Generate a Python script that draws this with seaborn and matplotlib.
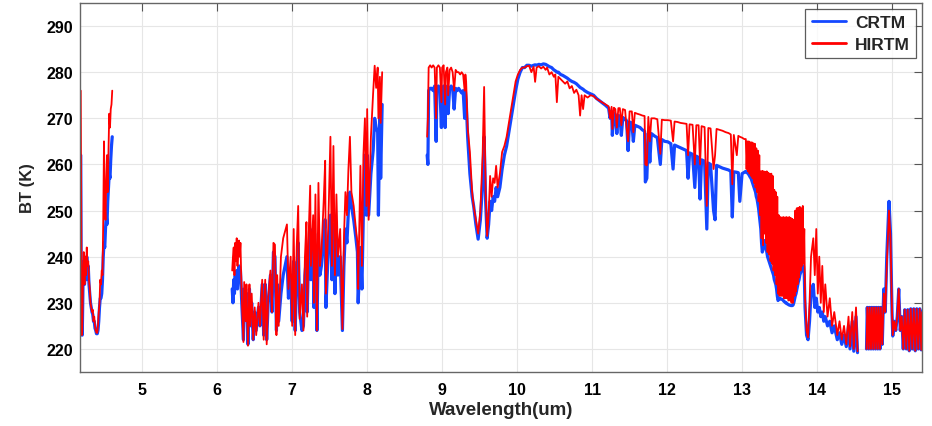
import matplotlib
matplotlib.use("Agg")
import matplotlib.pyplot as plt
import numpy as np
import pandas as pd
import seaborn as sns

# ---------------- data ----------------
# segment 1 : 4.17 - 4.60 um
wl1 = [4.18, 4.185, 4.19, 4.195, 4.20, 4.21, 4.22, 4.23, 4.24, 4.25,
       4.26, 4.27, 4.28, 4.29, 4.30, 4.31, 4.32, 4.33, 4.34, 4.35,
       4.36, 4.37, 4.38, 4.39, 4.40, 4.41, 4.42, 4.43, 4.44, 4.45,
       4.46, 4.47, 4.48, 4.49, 4.50, 4.51, 4.52, 4.53, 4.54, 4.55,
       4.56, 4.57, 4.58, 4.59, 4.60]
crtm1 = [262, 240, 226, 223, 223, 234, 239, 234, 238, 235,
         240, 237, 238, 234, 232, 230, 229, 228, 227.5, 226,
         226, 224.5, 224, 223.3, 223.3, 224, 226, 229, 231, 231,
         232, 235, 240, 243, 242, 246, 249, 247, 252, 255,
         258, 257, 261, 264, 266]
hirtm1 = [276, 255, 232, 223, 224, 236, 241, 234, 240, 236,
          242, 238, 239, 235, 233, 230, 229, 228, 228.5, 226,
          227, 225, 224, 223.5, 223.5, 225, 228, 230, 235, 234,
          237, 236, 248, 265, 252, 248, 256, 262, 254, 263,
          271, 268, 272, 273, 276]

# segment 2 : 6.20 - 8.20 um
wl2 = [6.20, 6.21, 6.22, 6.23, 6.24, 6.25, 6.26, 6.27, 6.28, 6.29,
       6.30, 6.31, 6.32, 6.33, 6.35, 6.36, 6.38, 6.39, 6.41, 6.43,
       6.44, 6.46, 6.48, 6.50, 6.52, 6.55, 6.57, 6.60, 6.62, 6.64,
       6.66, 6.68, 6.71, 6.73, 6.75, 6.77, 6.79, 6.80, 6.82, 6.85,
       6.88, 6.93, 6.95, 6.98, 7.00, 7.02, 7.04, 7.06, 7.08, 7.10,
       7.13, 7.15, 7.17, 7.19, 7.20, 7.22, 7.24, 7.25, 7.28, 7.29,
       7.31, 7.33, 7.35, 7.37, 7.39, 7.42, 7.44, 7.45, 7.48, 7.51,
       7.53, 7.55, 7.57, 7.59, 7.61, 7.64, 7.67, 7.69, 7.71, 7.73,
       7.75, 7.77, 7.79, 7.82, 7.85, 7.87, 7.88, 7.91, 7.93, 7.95,
       7.97, 7.99, 8.00, 8.02, 8.05, 8.08, 8.10, 8.12, 8.14, 8.15,
       8.17, 8.18, 8.20]
crtm2 = [233, 230, 235, 232, 236, 234, 237, 233, 236, 238,
         235, 237, 233, 229, 222, 233, 227, 232, 221, 233,
         225, 230, 222, 228, 224, 229, 225, 234, 223, 234,
         222, 230, 236, 228, 241, 240, 224, 234, 226, 232,
         236, 240, 231, 236, 226, 239, 224, 236, 243, 228,
         224, 225, 236, 240, 228, 241, 246, 235, 242, 229,
         240, 224, 245, 236, 238, 244, 248, 229, 241, 249,
         235, 247, 232, 245, 236, 240, 224, 238, 246, 243,
         250, 254, 251, 248, 244, 241, 230, 242, 233, 250,
         262, 249, 262, 249, 258, 263, 270, 268, 267, 249,
         272, 257, 273]
hirtm2 = [237, 240, 242, 236, 243, 239, 244, 238, 241, 243.5,
          240, 243, 236, 230, 221.5, 234.5, 226, 234, 220.7, 234,
          225, 232, 222, 229, 223, 230, 225, 235, 222, 235,
          221, 231, 237, 228, 243, 242.6, 223, 236, 225, 240,
          244, 247, 233, 240, 225, 246, 223, 242, 251, 226.5,
          234, 224, 240, 247.5, 227, 245, 255.4, 238, 249, 230,
          253.5, 224, 256, 238, 241, 252, 260.8, 232, 246, 266,
          238, 264, 236, 253.5, 240, 246, 224.3, 244, 254, 249,
          259, 266, 254, 251, 246, 243, 233, 259.7, 238, 262,
          270, 251, 272, 248, 266, 275.6, 281.4, 276.6, 281, 270,
          279, 269, 280]

# segment 3a : 8.80 - 13.05 um
wl3a = [8.80, 8.81, 8.82, 8.84, 8.86, 8.88, 8.90, 8.92, 8.93, 8.95,
        8.97, 8.99, 9.00, 9.02, 9.04, 9.05, 9.07, 9.08, 9.10, 9.12,
        9.14, 9.16, 9.18, 9.20, 9.22, 9.24, 9.26, 9.28, 9.30, 9.31,
        9.32, 9.34, 9.37, 9.40, 9.42, 9.45, 9.48, 9.51, 9.54, 9.56,
        9.58, 9.60, 9.62, 9.64, 9.66, 9.68, 9.70, 9.72, 9.74, 9.77,
        9.80, 9.83, 9.86, 9.89, 9.92, 9.95, 9.98, 10.01, 10.04, 10.07,
        10.10, 10.13, 10.16, 10.19, 10.22, 10.24, 10.26, 10.29, 10.32, 10.35,
        10.38, 10.40, 10.43, 10.46, 10.49, 10.51, 10.53, 10.55, 10.58, 10.61,
        10.64, 10.67, 10.70, 10.73, 10.76, 10.79, 10.82, 10.84, 10.86, 10.88,
        10.90, 10.94, 10.98, 11.02, 11.06, 11.10, 11.14, 11.18, 11.22, 11.24,
        11.26, 11.27, 11.29, 11.31, 11.33, 11.35, 11.37, 11.39, 11.41, 11.44,
        11.46, 11.48, 11.50, 11.53, 11.55, 11.57, 11.60, 11.64, 11.67, 11.70,
        11.71, 11.73, 11.75, 11.77, 11.79, 11.83, 11.87, 11.91, 11.93, 11.97,
        12.01, 12.05, 12.08, 12.10, 12.14, 12.18, 12.22, 12.26, 12.28, 12.30,
        12.34, 12.37, 12.39, 12.42, 12.44, 12.46, 12.50, 12.53, 12.55, 12.58,
        12.62, 12.64, 12.66, 12.70, 12.74, 12.78, 12.82, 12.85, 12.87, 12.89,
        12.93, 12.95, 12.97, 13.00, 13.03, 13.05]
crtm3a = [262, 260, 276, 276.5, 276.5, 276, 277, 265, 276.5, 277,
          276.5, 268, 276.5, 277, 268, 276, 277, 271, 276.5, 277,
          276.5, 272, 276.5, 276, 276.5, 276, 275.5, 276, 270, 276,
          274, 266, 258, 253, 251, 247, 243.8, 248, 256, 266,
          252, 244, 247, 252, 250, 253, 252, 255, 253, 255,
          259, 262, 264, 267, 270, 273, 276, 278.5, 280, 281,
          281, 281.5, 281.5, 281.3, 281.5, 281.6, 281.5, 281.7, 281.6, 281.8,
          281.7, 281.5, 281.2, 281, 280.5, 280.3, 280, 280, 279.5, 279.3,
          279, 278.7, 278.3, 278, 277.8, 277.5, 277, 276.7, 276.5, 276.3,
          276, 275.6, 275.3, 275, 274.3, 273.8, 273.3, 272.8, 272.2, 270,
          271.5, 266.3, 271.2, 270.8, 266.7, 270.6, 270.5, 266.3, 270.2, 269.7,
          269.5, 263, 269.2, 269, 265, 268.5, 268.3, 268, 267.5, 267.2,
          256.2, 257, 266.8, 260.5, 266.7, 266.2, 265.8, 260, 265.4, 265,
          264.9, 264.5, 259, 264.2, 263.9, 263.6, 263.3, 263, 257, 262.5,
          262.2, 255, 261.8, 261.5, 252.5, 261, 260.7, 246, 260.3, 260,
          250, 248, 259.8, 259.5, 259.2, 259, 258.8, 258.5, 248.6, 258.4,
          258.3, 258.2, 252, 258, 258.3, 258.5]
hirtm3a = [266, 270, 281, 281.5, 281, 281.5, 281, 270, 281, 281.5,
           281, 273.5, 281, 281.5, 273, 280, 281, 275, 280.5, 281,
           280, 276, 280.5, 280, 280, 279.5, 280, 279.5, 276, 279.5,
           278, 268, 262.7, 254, 251, 248, 245, 250, 262, 276.8,
           254, 244.5, 249, 257.5, 253, 257, 256, 259.7, 255, 258,
           262.7, 264, 266, 269, 272, 275, 278, 279.5, 280.5, 281,
           281, 281.3, 281.4, 280, 281.2, 277.9, 281, 281.3, 280.8, 281.2,
           280.5, 281, 279.5, 280, 279, 279.5, 273.5, 279, 278.5, 278,
           277.5, 278, 276.5, 277, 275.5, 276.2, 275, 270.6, 275, 272,
           275, 274.5, 275, 274.8, 274.2, 273.8, 273.4, 273, 272.6, 270,
           272.5, 267.7, 272.3, 272, 268, 272.2, 272.2, 268.5, 272, 271.8,
           268, 265, 271.5, 271.5, 267, 271.2, 271, 270.8, 270.6, 270.5,
           260, 259.8, 270.3, 265, 270, 270, 269.8, 262.3, 269.7, 269.6,
           269.6, 269.5, 265, 269.3, 269.2, 269, 268.9, 268.8, 262, 268.7,
           268.6, 260, 268.5, 268.5, 260, 268.3, 268.1, 251, 267.9, 267.8,
           259, 262, 267.7, 267.5, 267.3, 267, 266.8, 266.5, 255.7, 266.4,
           262, 266.2, 266, 265.8, 265.5, 265.5]

# segment 3b : 13.06 - 13.85 um, dense band (continues segment 3a)
wl3b = [13.06, 13.07, 13.08, 13.09, 13.10, 13.11, 13.12, 13.13, 13.14, 13.15,
        13.16, 13.17, 13.18, 13.19, 13.20, 13.21, 13.22, 13.23, 13.24, 13.25,
        13.26, 13.27, 13.28, 13.29, 13.30, 13.31, 13.32, 13.33, 13.34, 13.35,
        13.36, 13.37, 13.38, 13.39, 13.40, 13.41, 13.42, 13.43, 13.44, 13.45,
        13.46, 13.47, 13.48, 13.49, 13.50, 13.51, 13.52, 13.53, 13.54, 13.55,
        13.56, 13.57, 13.58, 13.59, 13.60, 13.61, 13.62, 13.63, 13.64, 13.65,
        13.66, 13.67, 13.68, 13.69, 13.70, 13.71, 13.72, 13.73, 13.74, 13.75,
        13.76, 13.77, 13.78, 13.79, 13.80, 13.81, 13.82, 13.83, 13.84, 13.85]
crtm3b = [258.3, 258.2, 258, 257.8, 257.5, 257.2, 257, 256.5, 256, 255.5,
          255, 254.5, 254, 253, 252.5, 251.5, 250.5, 249, 247.5, 246,
          243, 241, 241.5, 243, 243.5, 242.5, 242, 241, 240, 239.5,
          239, 238.5, 238, 237.5, 237, 236.5, 236, 235, 234.5, 234,
          233, 231.5, 230.5, 230.8, 231, 230.8, 230.8, 230.8, 230.7, 230.5,
          230.3, 230.2, 230, 230, 229.8, 229.7, 229.6, 229.5, 229.5, 229.4,
          229.4, 229.4, 229.5, 230, 230.8, 231.5, 232, 232.8, 233.5, 234.5,
          235, 236, 236.5, 237, 237.5, 238, 238, 236, 229, 226]
hirtm3b = [259, 265, 258.5, 265, 258, 264.8, 257.5, 264.8, 257, 264.6,
           256, 264.5, 255, 263.5, 254, 263, 252, 262, 249, 258.5,
           244, 258.6, 242.5, 258.5, 245, 258.4, 243, 258.5, 241, 258.2,
           240.5, 258, 239, 258, 238.5, 257.5, 237, 254.5, 236, 254,
           234, 253, 232, 249, 231.5, 248.6, 231.5, 248.5, 231.5, 248.6,
           231, 248.5, 231, 248.6, 231, 248.5, 230.5, 248.6, 230.5, 248.4,
           230, 248.2, 230, 248, 231.5, 250, 232.5, 250.5, 234, 250.6,
           235.5, 250.8, 237, 250.5, 238, 251, 238.5, 246, 231, 228]

# segment 3c : 13.86 - 14.54 um (continues segment 3b)
wl3c = [13.86, 13.88, 13.90, 13.92, 13.95, 13.97, 13.99, 14.01, 14.03, 14.05,
        14.07, 14.09, 14.11, 14.14, 14.17, 14.20, 14.23, 14.27, 14.30, 14.33,
        14.36, 14.39, 14.42, 14.44, 14.47, 14.49, 14.52, 14.54]
crtm3c = [223, 222, 226, 232, 234, 229, 231, 228, 229, 227,
          228, 226, 227, 225, 226, 223.5, 225, 222, 223.5, 221,
          223, 220.5, 225, 220, 226, 219.5, 227, 219.2]
hirtm3c = [224, 222.5, 230, 240, 244, 236, 246, 232, 240, 230,
           238, 228, 234, 227, 231, 225, 228, 223, 226, 222,
           225, 221, 227, 220.5, 228, 220, 229, 219.5]

# segment 4 : 14.66 - 15.40 um
wl4 = [14.66, 14.67, 14.69, 14.70, 14.72, 14.73, 14.75, 14.76, 14.78, 14.79,
       14.81, 14.82, 14.84, 14.85, 14.87, 14.89, 14.91, 14.93, 14.96, 14.98,
       15.00, 15.01, 15.03, 15.05, 15.07, 15.09, 15.11, 15.13, 15.15, 15.17,
       15.19, 15.21, 15.23, 15.25, 15.27, 15.29, 15.31, 15.33, 15.35, 15.37,
       15.39, 15.40]
crtm4 = [220, 229, 220, 229, 220, 229, 220, 229, 220, 229,
         220, 229, 220, 229, 221, 233, 228, 240, 252, 245,
         228, 222.8, 226, 224, 227, 233, 224, 227, 220, 228.5,
         220, 228.5, 219.6, 228.7, 220, 228.7, 219.6, 228.7, 220, 228.7,
         219.8, 228]
hirtm4 = [220, 229, 220, 229, 220, 229, 220, 229, 220, 229,
          220, 229, 220, 229, 221, 232, 228, 238, 250, 244,
          228, 223, 226, 224, 227, 233, 224, 227, 220, 228.5,
          220, 228.5, 219.6, 228.7, 220, 228.7, 219.6, 228.7, 220, 228.7,
          219.8, 228]

x_ticks = [5, 6, 7, 8, 9, 10, 11, 12, 13, 14, 15]
y_ticks = [220, 230, 240, 250, 260, 270, 280, 290]
models = ["CRTM", "HIRTM"]

# ---------------- long-form table ----------------
segments = [(wl1, crtm1, hirtm1),
            (wl2, crtm2, hirtm2),
            (wl3a + wl3b + wl3c, crtm3a + crtm3b + crtm3c, hirtm3a + hirtm3b + hirtm3c),
            (wl4, crtm4, hirtm4)]
frames = []
for i, (w, c, h) in enumerate(segments):
    assert len(w) == len(c) == len(h), (i, len(w), len(c), len(h))
    frames.append(pd.DataFrame({"wl": w, "BT": c, "model": "CRTM", "seg": i}))
    frames.append(pd.DataFrame({"wl": w, "BT": h, "model": "HIRTM", "seg": i}))
df = pd.concat(frames, ignore_index=True)

# ---------------- style ----------------
sns.set_theme(style="white")
plt.rcParams["font.family"] = ["Liberation Sans", "DejaVu Sans"]
plt.rcParams["font.weight"] = "bold"
plt.rcParams["axes.labelweight"] = "bold"

fig = plt.figure(figsize=(9.32, 4.27), dpi=100)
ax = fig.add_axes([80 / 932, 1 - 373 / 427, 842 / 932, 369 / 427])

sns.lineplot(data=df, x="wl", y="BT", hue="model", size="model",
             units="seg", estimator=None, sort=False,
             hue_order=models, size_order=models,
             palette={"CRTM": "#1447ff", "HIRTM": "#ff0000"},
             sizes={"CRTM": 2.3, "HIRTM": 1.3}, ax=ax)

ax.set_xlim(4.17, 15.4)
ax.set_ylim(215, 295)
ax.set_xticks(x_ticks)
ax.set_yticks(y_ticks)
ax.grid(True, color="#e6e6e6", linewidth=0.8)
ax.set_axisbelow(True)
ax.tick_params(direction="in", length=6, width=0.8, color="#555555",
               top=True, right=True, labelsize=11.5, labelcolor="black")
ax.tick_params(axis="x", pad=7)
ax.tick_params(axis="y", pad=5)
for sp in ax.spines.values():
    sp.set_color("#666666")
    sp.set_linewidth(1.0)
for lbl in ax.get_xticklabels() + ax.get_yticklabels():
    lbl.set_fontweight("bold")

ax.set_xlabel("Wavelength(um)", fontsize=13.5, fontweight="bold", labelpad=3)
ax.set_ylabel("BT (K)", fontsize=12, fontweight="bold", labelpad=8)

leg = ax.legend(loc="upper right", frameon=True, fancybox=False,
                edgecolor="#333333", prop={"weight": "bold", "size": 12.5},
                handlelength=2.0, borderaxespad=0.35, borderpad=0.35,
                labelspacing=0.4, handletextpad=0.5)
leg.get_frame().set_linewidth(0.9)
for line in leg.get_lines():
    line.set_linewidth(2.0)

fig.savefig("out.png", dpi=100)
